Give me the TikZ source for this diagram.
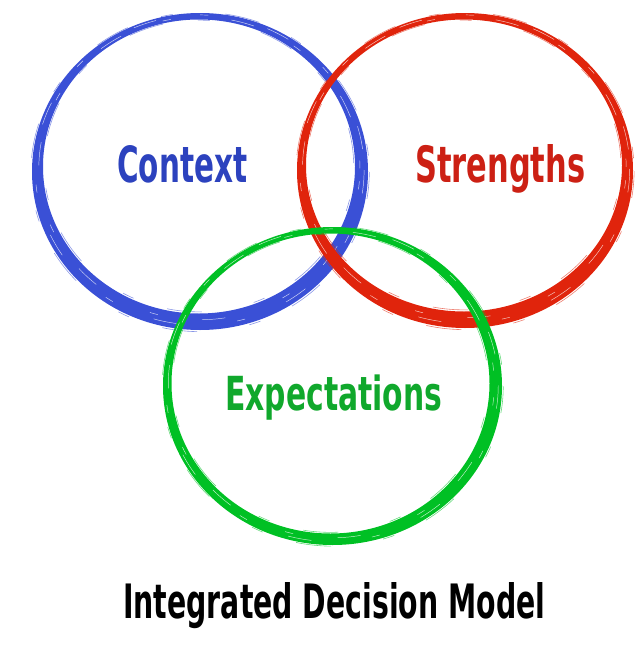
\documentclass[tikz,border=0pt]{standalone}
\usepackage{fontspec}
\setmainfont{DejaVu Sans Condensed}
\usepackage{graphicx}
\usetikzlibrary{calc}
\definecolor{ringblue}{RGB}{58,80,214}
\definecolor{ringred}{RGB}{224,36,12}
\definecolor{ringgreen}{RGB}{0,192,36}
\definecolor{textblue}{RGB}{44,66,190}
\definecolor{textred}{RGB}{204,32,20}
\definecolor{textgreen}{RGB}{16,168,44}

% one brush ring: colour, outer centre and radii, inner centre and radii
\newcommand{\brushring}[9]{%
  \fill[#1,even odd rule] (#2,#3) ellipse [x radius=#4,y radius=#5]
    (#6,#7) ellipse [x radius=#8,y radius=#9];
  \foreach \t/\ph in {0.3/0,0.62/47}{
    \pgfmathsetmacro\cx{#2+\t*(#6-#2)}
    \pgfmathsetmacro\cy{#3+\t*(#7-#3)}
    \pgfmathsetmacro\rx{#4+\t*(#8-#4)}
    \pgfmathsetmacro\ry{#5+\t*(#9-#5)}
    \draw[streak,dash phase=\ph pt] (\cx,\cy) ellipse [x radius=\rx,y radius=\ry];
  }
  \foreach \t/\ph in {-0.1/7,1.1/31}{
    \pgfmathsetmacro\cx{#2+\t*(#6-#2)}
    \pgfmathsetmacro\cy{#3+\t*(#7-#3)}
    \pgfmathsetmacro\rx{#4+\t*(#8-#4)}
    \pgfmathsetmacro\ry{#5+\t*(#9-#5)}
    \draw[#1,bristle,dash phase=\ph pt] (\cx,\cy) ellipse [x radius=\rx,y radius=\ry];
  }
}

\begin{document}
\begin{tikzpicture}[x=0.03cm,y=-0.03cm,
  streak/.style={white,line width=0.4pt,opacity=0.75,
    dash pattern=on 20pt off 38pt on 7pt off 52pt},
  bristle/.style={line width=0.5pt,opacity=0.6,
    dash pattern=on 30pt off 30pt on 10pt off 45pt},
  lbl/.style={inner sep=0pt,anchor=base west,font=\bfseries}]
\useasboundingbox (0,0) rectangle (637,645);

\brushring{ringblue}{200}{171.5}{168}{158.5}{199}{166.5}{156}{147}
\brushring{ringred}{465}{170.5}{168}{157.5}{464}{165.5}{158}{146}
\brushring{ringgreen}{332.5}{386}{169.5}{159}{330.5}{383.5}{159}{150}

\node[lbl,text=textblue] (context) at (117,182) {\resizebox{3.9cm}{1.11cm}{Context}};
\node[lbl,text=textred] (strengths) at (415,182) {\resizebox{5.1cm}{1.14cm}{Strengths}};
\node[lbl,text=textgreen] (expectations) at (225,410) {\resizebox{6.51cm}{1.07cm}{Expectations}};
\node[lbl,text=black] (title) at (123,618) {\resizebox{12.66cm}{1.08cm}{Integrated Decision Model}};

\end{tikzpicture}
\end{document}
